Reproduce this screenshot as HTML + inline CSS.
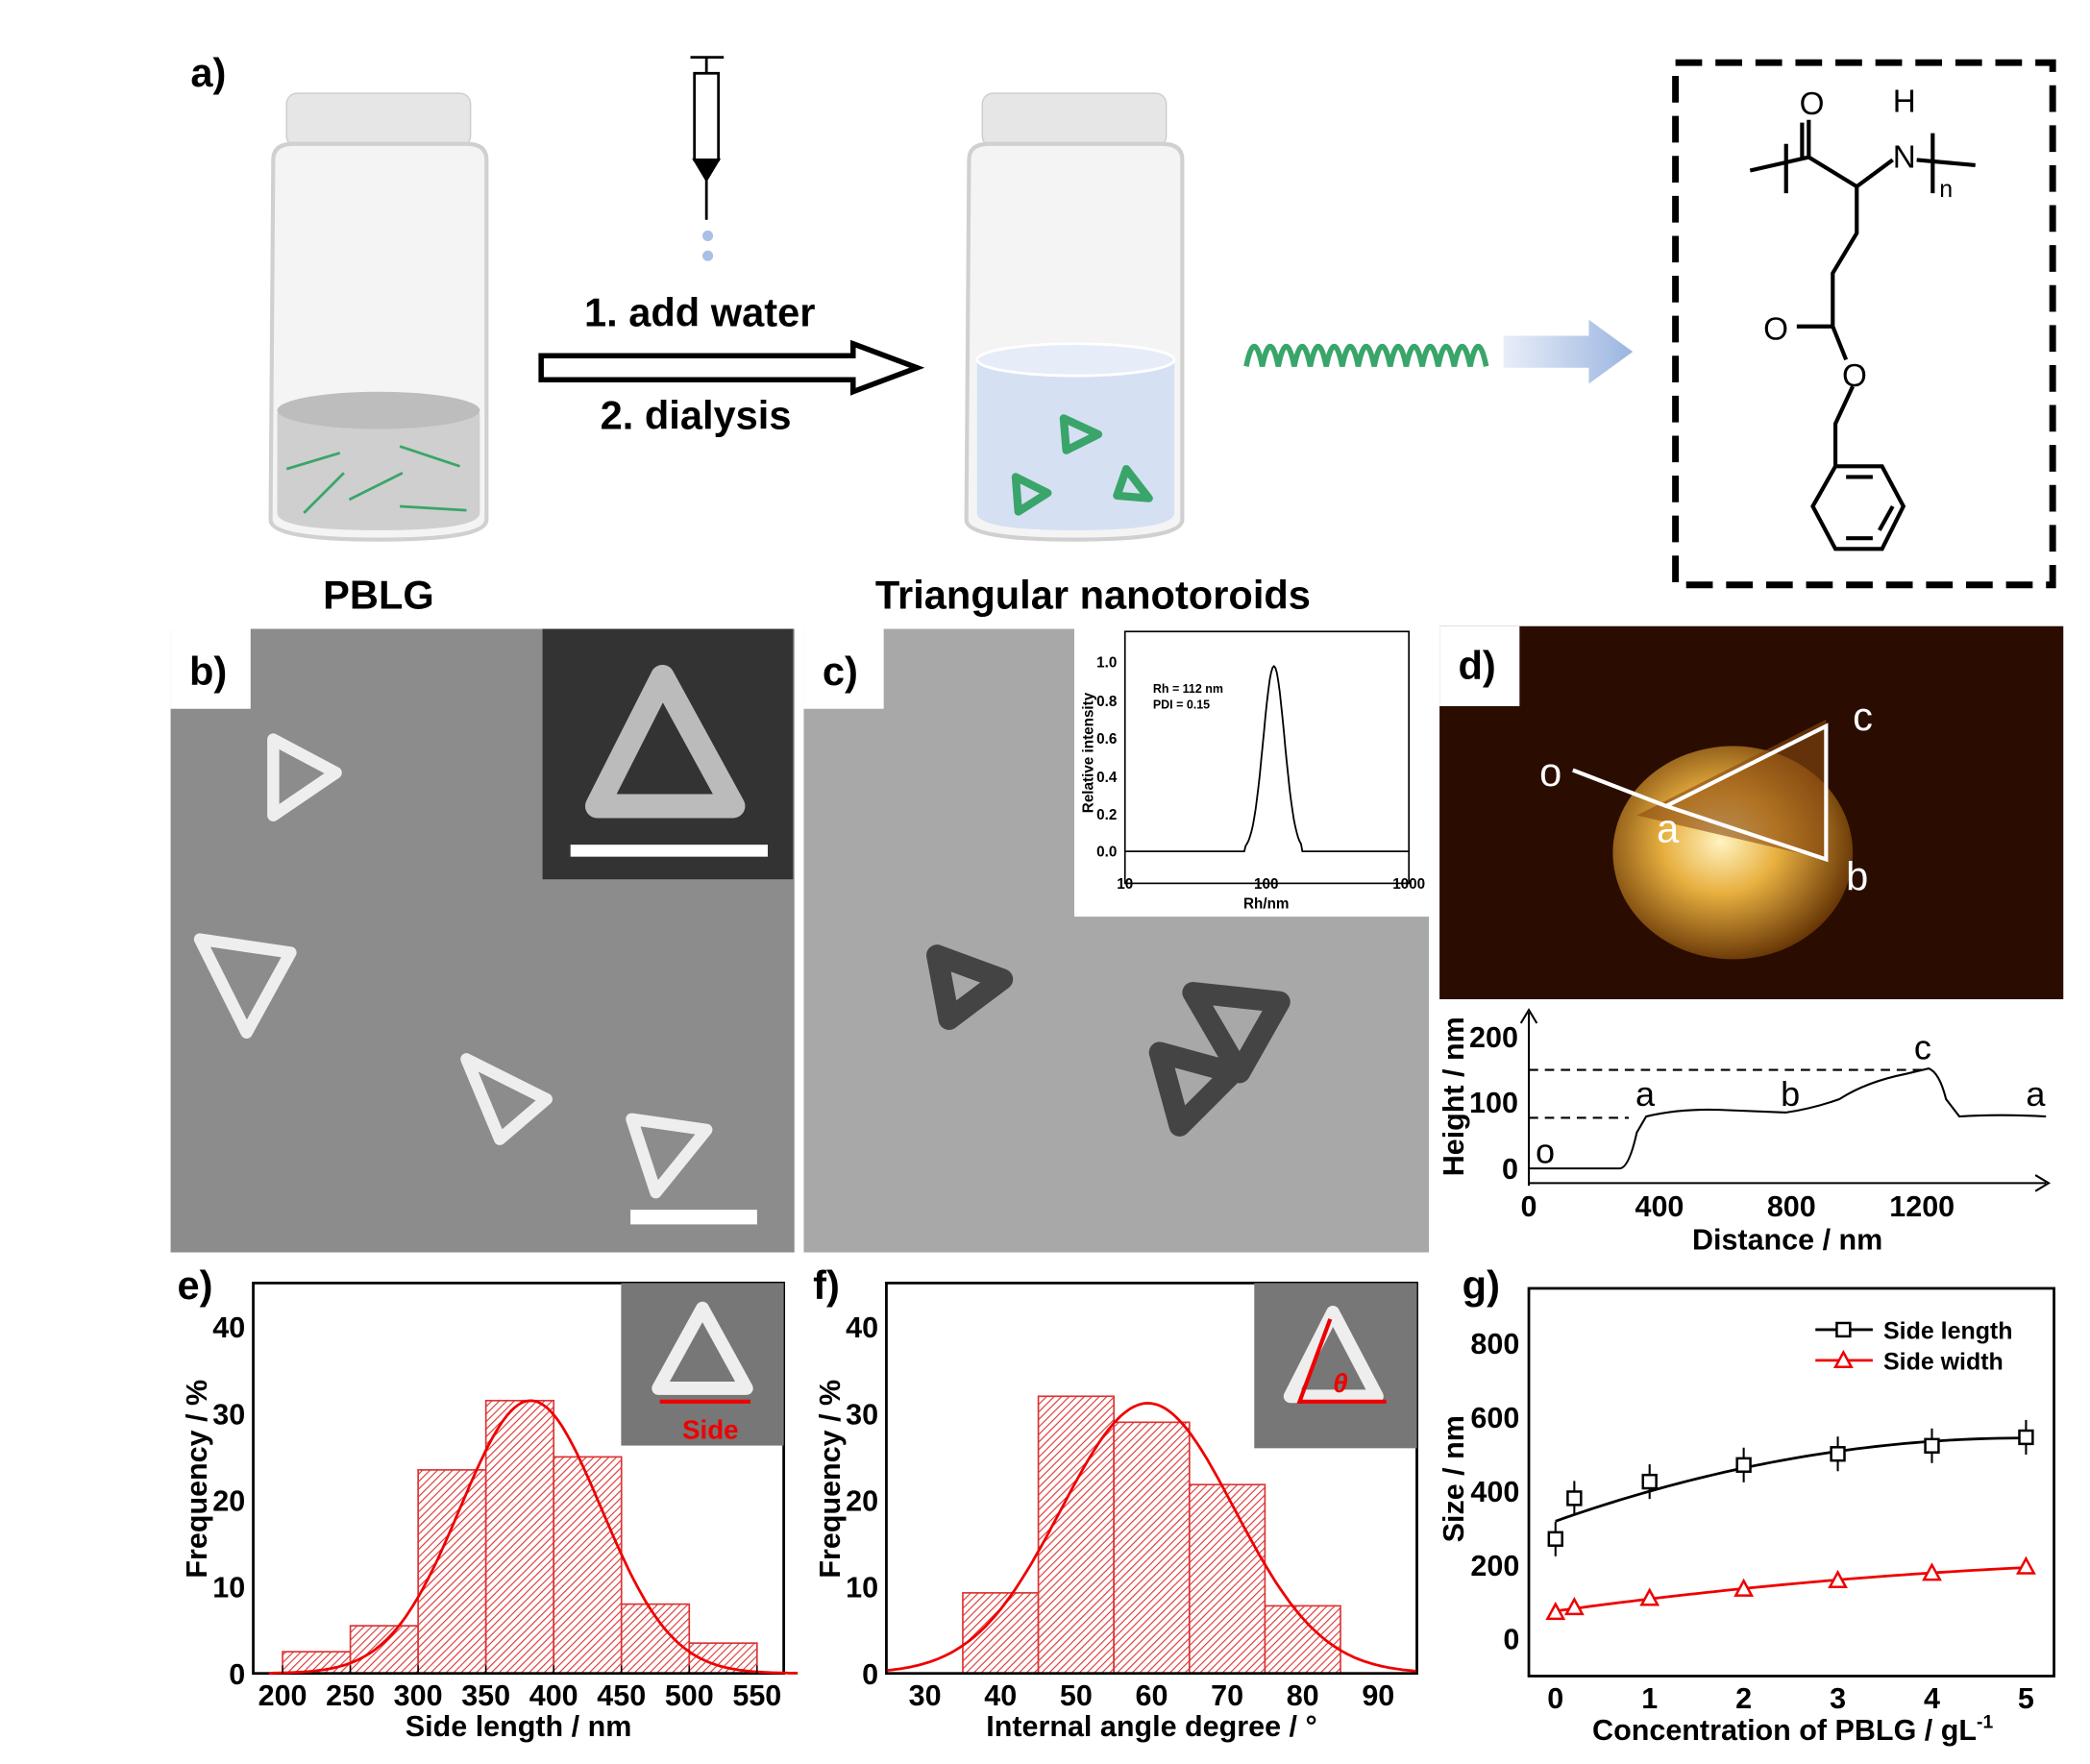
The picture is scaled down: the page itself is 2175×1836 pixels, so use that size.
<!DOCTYPE html>
<html><head><meta charset="utf-8"><style>
html,body{margin:0;padding:0;background:#fff}
svg{display:block}
text{font-family:"Liberation Sans",Arial,sans-serif}
</style></head><body>
<svg id="s" width="2175" height="1836" viewBox="0 0 1568 1324" preserveAspectRatio="none" xmlns="http://www.w3.org/2000/svg">
<defs>
<pattern id="hatch" width="4" height="4" patternUnits="userSpaceOnUse" patternTransform="rotate(45)">
<rect width="4" height="4" fill="#fff"/><line x1="0" y1="0" x2="0" y2="4" stroke="#d33" stroke-width="1.6"/></pattern>
<radialGradient id="afm" cx="0.45" cy="0.45" r="0.6"><stop offset="0" stop-color="#fff3c0"/><stop offset="0.4" stop-color="#e8b040"/><stop offset="1" stop-color="#5a2a00"/></radialGradient>
<linearGradient id="barrow" x1="0" x2="1"><stop offset="0" stop-color="#e8eef8"/><stop offset="1" stop-color="#9bb5e0"/></linearGradient>
</defs>
<g font-weight="bold">
<text x="143" y="65" font-size="30">a)</text>
<rect x="215" y="70" width="138" height="40" rx="8" fill="#e6e6e6" stroke="#ccc"/>
<path d="M205 120 Q205 108 220 108 H350 Q365 108 365 120 V390 Q365 405 284 405 Q203 405 203 390 Z" fill="#f4f4f4" stroke="#d0d0d0" stroke-width="3"/>
<path d="M208 310 V385 Q208 398 284 398 Q360 398 360 385 V310 Z" fill="#cfcfcf"/>
<ellipse cx="284" cy="308" rx="76" ry="14" fill="#bdbdbd"/>
<g stroke="#3aa56a" stroke-width="2" fill="none"><path d="M215 352 l40-12"/><path d="M300 335 l45 15"/><path d="M228 385 l30-30"/><path d="M262 375 l40-20"/><path d="M300 380 l50 3"/></g>
<g stroke="#000" stroke-width="2" fill="#fff"><line x1="518" y1="43" x2="543" y2="43"/><line x1="530" y1="43" x2="530" y2="55"/><rect x="521" y="55" width="18" height="65"/><path d="M521 120 H539 L530 135 Z" fill="#000"/><line x1="530" y1="135" x2="530" y2="165"/></g>
<circle cx="531" cy="177" r="4" fill="#a9c0e6"/><circle cx="531" cy="192" r="4" fill="#a9c0e6"/>
<text x="525" y="245" font-size="30" text-anchor="middle">1. add water</text>
<path d="M406 267 H640 V258 L688 276 L640 294 V285 H406 Z" fill="#fff" stroke="#000" stroke-width="4"/>
<text x="522" y="322" font-size="30" text-anchor="middle">2. dialysis</text>
<rect x="737" y="70" width="138" height="40" rx="8" fill="#e6e6e6" stroke="#ccc"/>
<path d="M727 120 Q727 108 742 108 H872 Q887 108 887 120 V390 Q887 405 806 405 Q725 405 725 390 Z" fill="#f4f4f4" stroke="#d0d0d0" stroke-width="3"/>
<path d="M733 270 V385 Q733 398 806 398 Q881 398 881 385 V270 Z" fill="#d6e0f3"/>
<ellipse cx="807" cy="270" rx="74" ry="12" fill="#e6ecf8" stroke="#fff" stroke-width="2"/>
<g stroke="#3aa56a" stroke-width="6" fill="none" stroke-linejoin="round"><path d="M798 314 L824 326 L800 338 Z"/><path d="M762 358 L786 370 L764 384 Z"/><path d="M845 352 L862 374 L838 372 Z"/></g>
<path d="M935 275 q6-30 12 0 q6-30 12 0 q6-30 12 0 q6-30 12 0 q6-30 12 0 q6-30 12 0 q6-30 12 0 q6-30 12 0 q6-30 12 0 q6-30 12 0 q6-30 12 0 q6-30 12 0 q6-30 12 0 q6-30 12 0 q6-30 12 0" fill="none" stroke="#3aa56a" stroke-width="4"/>
<path d="M1128 252 H1192 V240 L1225 264 L1192 288 V276 H1128 Z" fill="url(#barrow)"/>
<rect x="1257" y="47" width="283" height="392" fill="none" stroke="#000" stroke-width="5" stroke-dasharray="20 10"/>
<g stroke="#000" stroke-width="3" fill="none">
<path d="M1313 128 L1357 118 L1393 140 L1420 120 M1438 120 L1482 124"/>
<path d="M1340 108 V145 M1450 100 V145"/>
<path d="M1357 118 V90 M1352 118 V92"/>
<path d="M1393 140 V175 L1375 205 L1375 245 L1348 245 M1375 245 L1385 270 M1390 290 L1377 318 L1377 350 "/>
<path d="M1377 350 L1412 350 L1428 380 L1412 412 L1377 412 L1360 380 Z M1385 358 L1405 358 M1385 404 L1405 404 M1420 380 L1410 398"/>
</g>
<g font-size="24" font-weight="normal"><text x="1350" y="86">O</text><text x="1420" y="84">H</text><text x="1420" y="126">N</text><text x="1455" y="148" font-size="18">n</text><text x="1323" y="255">O</text><text x="1382" y="290">O</text></g>
<text x="284" y="457" font-size="30" text-anchor="middle">PBLG</text>
<text x="820" y="457" font-size="30" text-anchor="middle">Triangular nanotoroids</text>

<rect x="128" y="472" width="468" height="468" fill="#8c8c8c"/>
<g fill="none" stroke="#eee" stroke-width="9" stroke-linejoin="round">
<path d="M205 555 L252 580 L205 612 Z"/><path d="M150 705 L218 715 L185 775 Z"/><path d="M350 795 L410 825 L375 855 Z"/><path d="M474 840 L530 848 L492 895 Z"/></g>
<rect x="128" y="472" width="60" height="60" fill="#fff"/>
<text x="142" y="514" font-size="30">b)</text>
<rect x="407" y="472" width="188" height="188" fill="#333"/>
<path d="M497 508 L550 605 L448 605 Z" fill="none" stroke="#bbb" stroke-width="18" stroke-linejoin="round"/>
<rect x="428" y="634" width="148" height="9" fill="#fff"/>
<rect x="473" y="908" width="95" height="11" fill="#fff"/>

<rect x="603" y="472" width="469" height="468" fill="#a8a8a8"/>
<g fill="none" stroke="#444" stroke-width="16" stroke-linejoin="round">
<path d="M703 717 L752 735 L712 765 Z"/><path d="M895 745 L960 752 L930 805 Z"/><path d="M870 790 L925 805 L885 845 Z"/></g>
<rect x="603" y="472" width="60" height="60" fill="#fff"/>
<text x="617" y="514" font-size="30">c)</text>
<rect x="806" y="472" width="266" height="216" fill="#fff"/>
<rect x="844" y="474" width="213" height="189" fill="none" stroke="#000" stroke-width="1.2"/>
<g font-size="11"><text x="838" y="501" text-anchor="end">1.0</text><text x="838" y="558" text-anchor="end">0.6</text><text x="838" y="530" text-anchor="end">0.8</text><text x="838" y="587" text-anchor="end">0.4</text><text x="838" y="615" text-anchor="end">0.2</text><text x="838" y="643" text-anchor="end">0.0</text>
<text x="844" y="667" text-anchor="middle">10</text><text x="950" y="667" text-anchor="middle">100</text><text x="1057" y="667" text-anchor="middle">1000</text><text x="950" y="682" text-anchor="middle">Rh/nm</text>
<text transform="translate(820 565) rotate(-90)" text-anchor="middle">Relative intensity</text>
<text x="865" y="520" font-size="9">Rh = 112 nm</text><text x="865" y="532" font-size="9">PDI = 0.15</text></g>
<path id="dls" fill="none" stroke="#000" stroke-width="1.3"/>

<rect x="1080" y="470" width="468" height="280" fill="#2a0d00"/>
<ellipse cx="1300" cy="640" rx="90" ry="80" fill="url(#afm)"/>
<path d="M1228 612 L1370 540 L1370 645 Z" fill="#8a4a10" opacity="0.6"/>
<path d="M1180 578 L1250 605 L1370 545 L1370 645 L1250 605" fill="none" stroke="#fff" stroke-width="3"/>
<g fill="#fff" font-size="30" font-weight="normal"><text x="1155" y="590">o</text><text x="1243" y="632">a</text><text x="1385" y="668">b</text><text x="1390" y="548">c</text></g>
<rect x="1080" y="470" width="60" height="60" fill="#fff"/>
<text x="1094" y="510" font-size="30">d)</text>
<g stroke="#000" stroke-width="1.5" fill="none"><path d="M1147 890 V760 M1141 768 L1147 758 L1153 768"/><path d="M1147 888 H1535 M1527 882 L1537 888 L1527 894"/>
<path d="M1147 803 H1442 M1147 839 H1222" stroke-dasharray="7 5"/>
<path d="M1147 877 H1215 Q1222 877 1228 850 L1235 838 Q1260 832 1290 833 L1340 835 Q1360 832 1380 825 Q1400 812 1430 806 L1447 802 Q1455 805 1460 825 L1470 838 Q1500 836 1535 838"/></g>
<g font-size="22"><text x="1139" y="885" text-anchor="end">0</text><text x="1139" y="835" text-anchor="end">100</text><text x="1139" y="786" text-anchor="end">200</text>
<text x="1147" y="913" text-anchor="middle">0</text><text x="1245" y="913" text-anchor="middle">400</text><text x="1344" y="913" text-anchor="middle">800</text><text x="1442" y="913" text-anchor="middle">1200</text>
<text x="1341" y="938" text-anchor="middle">Distance / nm</text>
<text transform="translate(1098 823) rotate(-90)" text-anchor="middle">Height / nm</text>
<text x="1152" y="873" font-size="26" font-weight="normal">o</text><text x="1227" y="830" font-size="26" font-weight="normal">a</text><text x="1336" y="830" font-size="26" font-weight="normal">b</text><text x="1436" y="795" font-size="26" font-weight="normal">c</text><text x="1520" y="830" font-size="26" font-weight="normal">a</text></g>

<text x="133" y="975" font-size="30">e)</text>
<g id="eb"></g>
<rect x="190" y="963" width="398" height="293" fill="none" stroke="#000" stroke-width="2"/>
<rect x="466" y="963" width="122" height="122" fill="#777"/>
<path d="M527 982 L560 1042 L494 1042 Z" fill="none" stroke="#eee" stroke-width="10" stroke-linejoin="round"/>
<path d="M495 1052 H563" stroke="#e00" stroke-width="3"/><text x="533" y="1080" font-size="20" fill="#e00" text-anchor="middle">Side</text>
<path id="eg" fill="none" stroke="#e00" stroke-width="2"/>
<g font-size="22" id="et"></g>
<text x="389" y="1303" font-size="22" text-anchor="middle">Side length / nm</text>
<text transform="translate(155 1110) rotate(-90)" font-size="22" text-anchor="middle">Frequency / %</text>

<text x="610" y="975" font-size="30">f)</text>
<g id="fb"></g>
<rect x="665" y="963" width="398" height="293" fill="none" stroke="#000" stroke-width="2"/>
<rect x="941" y="963" width="122" height="124" fill="#777"/>
<path d="M1000 985 L1033 1048 L968 1048 Z" fill="none" stroke="#eee" stroke-width="10" stroke-linejoin="round"/>
<path d="M998 990 L975 1052 H1040" stroke="#e00" stroke-width="3" fill="none"/><text x="1000" y="1045" font-size="20" fill="#e00" font-style="italic">θ</text>
<path id="fg" fill="none" stroke="#e00" stroke-width="2"/>
<g font-size="22" id="ft"></g>
<text x="864" y="1303" font-size="22" text-anchor="middle">Internal angle degree / °</text>
<text transform="translate(630 1110) rotate(-90)" font-size="22" text-anchor="middle">Frequency / %</text>

<text x="1097" y="975" font-size="30">g)</text>
<rect x="1147" y="967" width="394" height="291" fill="none" stroke="#000" stroke-width="2"/>
<g font-size="22" id="gt"></g>
<text x="1345" y="1306" font-size="22" text-anchor="middle">Concentration of PBLG / gL<tspan dy="-9" font-size="14">-1</tspan></text>
<text transform="translate(1098 1110) rotate(-90)" font-size="22" text-anchor="middle">Size / nm</text>
<path id="g1" fill="none" stroke="#000" stroke-width="2"/><path id="g2" fill="none" stroke="#e00" stroke-width="2"/>
<g id="gp"></g>
<g font-size="18"><path d="M1362 998 H1405" stroke="#000" stroke-width="2"/><rect x="1378" y="993" width="10" height="10" fill="#fff" stroke="#000" stroke-width="1.8"/><text x="1413" y="1005">Side length</text>
<path d="M1362 1021 H1405" stroke="#e00" stroke-width="2"/><path d="M1383 1015 L1389 1026 L1377 1026 Z" fill="#fff" stroke="#e00" stroke-width="1.8"/><text x="1413" y="1028">Side width</text></g>
</g>
<script>
var NS="http://www.w3.org/2000/svg";
function el(p,t,a,txt){var e=document.createElementNS(NS,t);for(var k in a)e.setAttribute(k,a[k]);if(txt!==undefined)e.textContent=txt;document.getElementById(p).appendChild(e);return e;}
function gauss(x0,x1,X,Y,mu,s,A){var d="";for(var i=0;i<=200;i++){var v=x0+(x1-x0)*i/200;var y=A*Math.exp(-(v-mu)*(v-mu)/(2*s*s));d+=(i?"L":"M")+X(v).toFixed(1)+" "+Y(y).toFixed(1);}return d;}
(function(){var d="";for(var i=0;i<=200;i++){var lx=1+2*i/200;var x=844+(lx-1)*106.5;var y=Math.exp(-Math.pow(lx-Math.log10(112),2)/(2*0.075*0.075));if(Math.abs(lx-2.05)>0.2)y=0;d+=(i?"L":"M")+x.toFixed(1)+" "+(639-y*139).toFixed(1);}document.getElementById("dls").setAttribute("d",d);})();
var EX=function(v){return 212+(v-200)*1.017},EY=function(v){return 1256-v*6.5};
[[200,2.5],[250,5.5],[300,23.5],[350,31.5],[400,25],[450,8],[500,3.5]].forEach(function(b){el("eb","rect",{x:EX(b[0]),y:EY(b[1]),width:50*1.017,height:b[1]*6.5,fill:"url(#hatch)",stroke:"#d33","stroke-width":1.2});});
document.getElementById("eg").setAttribute("d",gauss(190,580,EX,EY,383,52,31.5));
for(var v=200;v<=550;v+=50){el("et","text",{x:EX(v),y:1280,"text-anchor":"middle"},v);el("et","line",{x1:EX(v),x2:EX(v),y1:1256,y2:1250,stroke:"#000"});}
for(var v=0;v<=40;v+=10)el("et","text",{x:184,y:EY(v)+8,"text-anchor":"end"},v);
var FX=function(v){return 694+(v-30)*5.667},FY=EY;
[[35,9.3],[45,32],[55,29],[65,21.8],[75,7.8]].forEach(function(b){el("fb","rect",{x:FX(b[0]),y:FY(b[1]),width:10*5.667,height:b[1]*6.5,fill:"url(#hatch)",stroke:"#d33","stroke-width":1.2});});
document.getElementById("fg").setAttribute("d",gauss(25,95,FX,FY,59.5,11.5,31.2));
for(var v=30;v<=90;v+=10)el("ft","text",{x:FX(v),y:1280,"text-anchor":"middle"},v);
for(var v=0;v<=40;v+=10)el("ft","text",{x:659,y:FY(v)+8,"text-anchor":"end"},v);
var GX=function(v){return 1167+v*70.6},GY=function(v){return 1230-v*0.2775};
for(var v=0;v<=5;v++)el("gt","text",{x:GX(v),y:1282,"text-anchor":"middle"},v);
for(var v=0;v<=800;v+=200)el("gt","text",{x:1140,y:GY(v)+8,"text-anchor":"end"},v);
var d1="",d2="";for(var i=0;i<=50;i++){var c=5*i/50;d1+=(i?"L":"M")+GX(c)+" "+GY(318+90*c-9*c*c);d2+=(i?"L":"M")+GX(c)+" "+GY(75+35*c-2.3*c*c);}
document.getElementById("g1").setAttribute("d",d1);document.getElementById("g2").setAttribute("d",d2);
[[0,270],[0.2,380],[1,425],[2,470],[3,500],[4,522],[5,545]].forEach(function(p){var x=GX(p[0]),y=GY(p[1]);el("gp","line",{x1:x,x2:x,y1:y-13,y2:y+13,stroke:"#000","stroke-width":1.5});el("gp","rect",{x:x-5,y:y-5,width:10,height:10,fill:"#fff",stroke:"#000","stroke-width":1.8});});
[[0,72],[0.2,85],[1,110],[2,135],[3,158],[4,178],[5,195]].forEach(function(p){var x=GX(p[0]),y=GY(p[1]);el("gp","path",{d:"M"+x+" "+(y-6)+" L"+(x+6)+" "+(y+5)+" L"+(x-6)+" "+(y+5)+" Z",fill:"#fff",stroke:"#e00","stroke-width":1.8});});
</script>
</svg>
</body></html>
